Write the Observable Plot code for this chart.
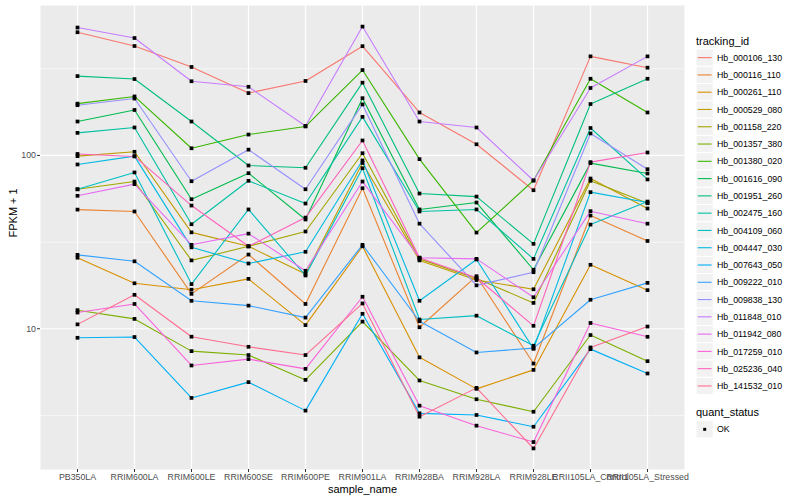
<!DOCTYPE html>
<html><head><meta charset="utf-8">
<script src="https://cdn.jsdelivr.net/npm/d3@7"></script>
<script src="https://cdn.jsdelivr.net/npm/@observablehq/plot@0.6"></script>
<style>
body{margin:0;background:#fff;}
#wrap{position:relative;width:800px;height:500px;font-family:"Liberation Sans",Arial,Helvetica,sans-serif;}
#legend{position:absolute;left:690px;top:0;}
g[aria-label$="tick label"]{fill:#4D4D4D;}
g[aria-label$="axis tick"]{stroke:#333333;}
</style></head><body><div id="wrap"></div>
<script>
const samples = ["PB350LA","RRIM600LA","RRIM600LE","RRIM600SE","RRIM600PE","RRIM901LA","RRIM928BA","RRIM928LA","RRIM928LE","RRII105LA_Control","RRII105LA_Stressed"];
const trackingIds = ["Hb_000106_130","Hb_000116_110","Hb_000261_110","Hb_000529_080","Hb_001158_220","Hb_001357_380","Hb_001380_020","Hb_001616_090","Hb_001951_260","Hb_002475_160","Hb_004109_060","Hb_004447_030","Hb_007643_050","Hb_009222_010","Hb_009838_130","Hb_011848_010","Hb_011942_080","Hb_017259_010","Hb_025236_040","Hb_141532_010"];

const hb_000106_130 = [514, 428, 324, 229, 269, 427, 177, 116, 63, 373, 321];
const hb_000116_110 = [48.7, 47.5, 15.9, 26.8, 13.9, 64.7, 10.2, 20.1, 6.3, 45.0, 32.1];
const hb_000261_110 = [25.7, 18.3, 16.8, 19.4, 10.5, 29.9, 6.84, 4.5, 5.79, 23.4, 16.7];
const hb_000529_080 = [99.1, 105, 36.0, 29.9, 20.7, 90.5, 24.8, 19.1, 16.9, 73.6, 49.4];
const hb_001158_220 = [63.8, 70.7, 24.8, 29.9, 36.4, 103, 25.3, 19.5, 14.1, 71.4, 53.0];
const hb_001357_380 = [12.8, 11.4, 7.43, 7.05, 5.07, 11.0, 5.03, 3.92, 3.32, 9.2, 6.5];
const hb_001380_020 = [199, 219, 110, 132, 147, 311, 95.2, 35.9, 71.7, 277, 177];
const hb_001616_090 = [157, 183, 55.9, 79.0, 42.7, 214, 48.8, 53.5, 21.9, 90.3, 78.7];
const hb_001951_260 = [287, 276, 157, 87.5, 84.9, 263, 60.3, 57.9, 30.9, 198, 277];
const hb_002475_160 = [135, 145, 40.1, 71.4, 52.8, 167, 47.5, 48.8, 25.3, 144, 72.7];
const hb_004109_060 = [63.8, 79.8, 18.1, 48.8, 20.3, 84.4, 11.3, 11.9, 7.98, 39.9, 54.2];
const hb_004447_030 = [88.7, 99.1, 29.5, 23.8, 27.8, 93.6, 14.5, 25.1, 7.66, 61.4, 53.5];
const hb_007643_050 = [8.87, 8.96, 3.99, 4.92, 3.37, 12.2, 3.25, 3.18, 2.72, 7.63, 5.52];
const hb_009222_010 = [26.7, 24.5, 14.5, 13.6, 11.6, 30.5, 11.05, 7.3, 7.73, 14.7, 18.4];
const hb_009838_130 = [195, 213, 71.0, 108, 63.8, 197, 40.4, 17.8, 21.2, 134, 83.3];
const hb_011848_010 = [547, 476, 268, 249, 148, 554, 157, 145, 71.7, 245, 373];
const hb_011942_080 = [58.5, 68.3, 30.5, 35.4, 21.6, 70.7, 25.7, 25.3, 15.2, 47.7, 40.4];
const hb_017259_010 = [12.4, 13.9, 6.14, 6.68, 5.87, 15.3, 3.6, 2.76, 2.22, 10.8, 8.99];
const hb_025236_040 = [102, 98.7, 51.4, 29.9, 43.8, 122, 25.7, 19.7, 10.4, 91.5, 104];
const hb_141532_010 = [10.6, 15.7, 9.0, 7.87, 7.05, 14.0, 3.11, 4.56, 2.04, 7.8, 10.3];

const seriesList = [hb_000106_130, hb_000116_110, hb_000261_110, hb_000529_080, hb_001158_220, hb_001357_380, hb_001380_020, hb_001616_090, hb_001951_260, hb_002475_160, hb_004109_060, hb_004447_030, hb_007643_050, hb_009222_010, hb_009838_130, hb_011848_010, hb_011942_080, hb_017259_010, hb_025236_040, hb_141532_010];
const quantStatus = ["OK"];

const palette = ["#F8766D","#EA8331","#D89000","#C09B00","#A3A500","#7CAE00","#39B600","#00BB4E","#00BF7D","#00C1A3","#00BFC4","#00BAE0","#00B0F6","#35A2FF","#9590FF","#C77CFF","#E76BF3","#FA62DB","#FF62BC","#FF6C91"];
const yBreaks = [10, 100];
const yMinorBreaks = [3.1623, 31.623, 316.23];

const rows = trackingIds.flatMap((id, i) => samples.map((s, j) => ({id, sample: s, value: seriesList[i][j], status: quantStatus[0]})));

const ext = d3.extent(rows, d => d.value);
const lo = Math.log10(ext[0]), hi = Math.log10(ext[1]);
const pad = (hi - lo) * 0.05;
const yDomain = [10 ** (lo - pad), 10 ** (hi + pad)];

const font = '"Liberation Sans", Arial, Helvetica, sans-serif';

const chart = Plot.plot({
  width: 800, height: 500,
  marginLeft: 40, marginRight: 116, marginTop: 5, marginBottom: 31,
  style: {fontFamily: font, background: "white", color: "black"},
  x: {type: "point", domain: samples, padding: 0.6, label: null},
  y: {type: "log", domain: yDomain, label: null},
  color: {domain: trackingIds, range: palette},
  marks: [
    Plot.frame({fill: "#EBEBEB", stroke: null}),
    Plot.ruleY(yMinorBreaks, {stroke: "white", strokeWidth: 0.6}),
    Plot.ruleY(yBreaks, {stroke: "white", strokeWidth: 1.2}),
    Plot.ruleX(samples, {x: d => d, stroke: "white", strokeWidth: 1.2}),
    Plot.line(rows, {x: "sample", y: "value", z: "id", stroke: "id", strokeWidth: 1.1}),
    Plot.dot(rows, {x: "sample", y: "value", symbol: "square", r: 2.1, fill: "black", stroke: null}),
    Plot.axisX({tickSize: 3, tickPadding: 1.5, fontSize: 8.8, label: null}),
    Plot.axisY({ticks: yBreaks, tickFormat: d => String(d), tickSize: 3, tickPadding: 1.5, fontSize: 8.8, label: null}),
    Plot.text(["sample_name"], {frameAnchor: "bottom", dy: 23, fontSize: 11, fill: "black"}),
    Plot.text(["FPKM + 1"], {frameAnchor: "left", dx: -27, rotate: -90, fontSize: 11, fill: "black"})
  ]
});
const wrap = document.getElementById("wrap");
wrap.appendChild(chart);

// legend
const colorScale = chart.scale("color");
const lg = d3.select(wrap).append("svg").attr("id", "legend").attr("width", 110).attr("height", 500)
  .style("font-family", font);
lg.append("text").attr("x", 6).attr("y", 44.5).attr("font-size", 11).text("tracking_id");
const key = 17.28, top0 = 49;
trackingIds.forEach((id, i) => {
  const y = top0 + i * key;
  lg.append("rect").attr("x", 6).attr("y", y).attr("width", key).attr("height", key).attr("fill", "#F2F2F2").attr("stroke", "white");
  lg.append("line").attr("x1", 7.7).attr("x2", 21.6).attr("y1", y + key / 2).attr("y2", y + key / 2)
    .attr("stroke", colorScale.apply(id)).attr("stroke-width", 1.1);
  lg.append("text").attr("x", 27).attr("y", y + key / 2 + 3.1).attr("font-size", 8.8).attr("fill", "black").text(id);
});
lg.append("text").attr("x", 6).attr("y", 415.5).attr("font-size", 11).text("quant_status");
quantStatus.forEach((s, i) => {
  const y = 420.7 + i * key;
  lg.append("rect").attr("x", 6).attr("y", y).attr("width", key).attr("height", key).attr("fill", "#F2F2F2").attr("stroke", "white");
  lg.append("rect").attr("x", 13.2).attr("y", y + key / 2 - 1.5).attr("width", 3).attr("height", 3).attr("fill", "black");
  lg.append("text").attr("x", 27).attr("y", y + key / 2 + 3.1).attr("font-size", 8.8).attr("fill", "black").text(s);
});
</script></body></html>
